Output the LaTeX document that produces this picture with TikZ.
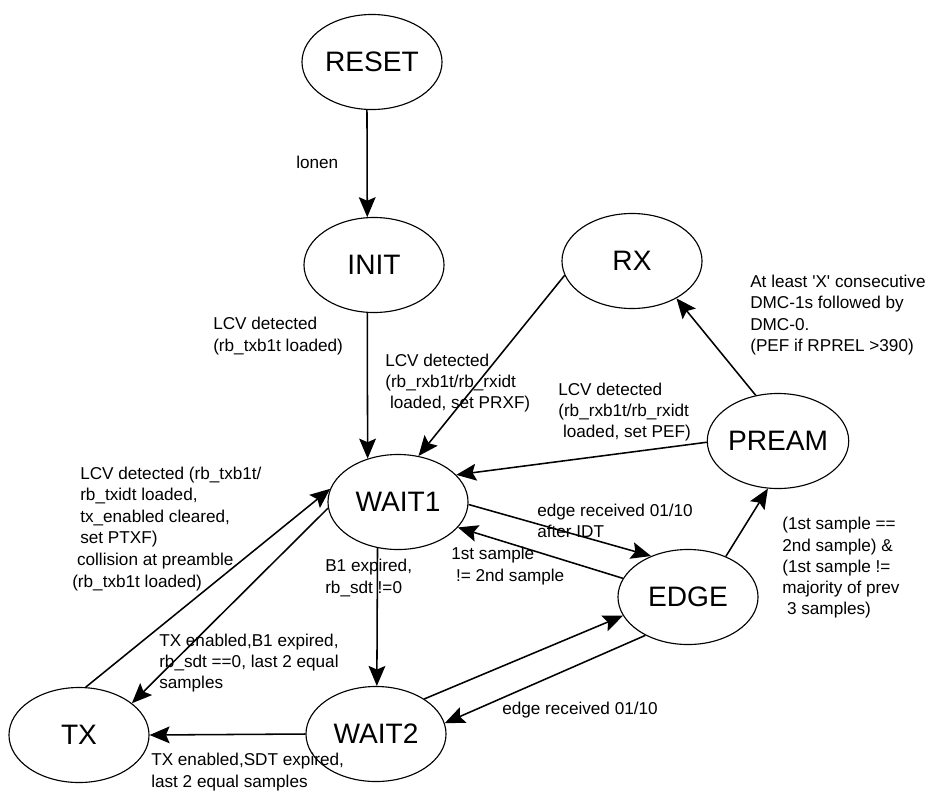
\documentclass[tikz,border=0pt]{standalone}
\usepackage{fontspec}
\setmainfont{Liberation Sans}
\usetikzlibrary{arrows.meta}
\usetikzlibrary{shapes.geometric}

\begin{document}
\begin{tikzpicture}[
        x=0.025cm, y=-0.025cm,
        state/.style={
            draw,
            ellipse,
            line width=0.8pt,
            minimum width=3.5cm,
            minimum height=2.375cm,
            inner sep=0pt,
            font=\fontsize{20}{24}\selectfont
        },
        lbl/.style={
            anchor=west,
            align=left,
            inner sep=0pt,
            font=\fontsize{12.2}{15.1}\selectfont
        },
        arrow/.style={-{Stealth[length=0.5cm, width=0.42cm, inset=0.09cm]}, line width=1.1pt}
    ]
        \useasboundingbox (0,0) rectangle (925,791);

        % states
        \node[state] (RESET) at (372,62) {RESET};
        \node[state] (INIT) at (374,265) {INIT};
        \node[state] (RX) at (632,261) {RX};
        \node[state] (WAIT1) at (398,502) {WAIT1};
        \node[state] (PREAM) at (778,441) {PREAM};
        \node[state] (EDGE) at (688,597) {EDGE};
        \node[state] (WAIT2) at (376,734) {WAIT2};
        \node[state] (TX) at (79,735) {TX};

        % transition labels
        \node[lbl] (lblLonen) at (296,162) {lonen};
        \node[lbl] (lblInit) at (213,336) {LCV detected\\(rb\_txb1t loaded)};
        \node[lbl] (lblRx) at (385,383) {LCV detected\\(rb\_rxb1t/rb\_rxidt\\\mbox{}\ loaded, set PRXF)};
        \node[lbl] (lblPream) at (558,412) {LCV detected\\(rb\_rxb1t/rb\_rxidt\\\mbox{}\ loaded, set PEF)};
        \node[lbl] (lblDmc) at (750,315) {At least \textquotesingle X\textquotesingle{} consecutive\\DMC-1s followed by\\DMC-0.\\(PEF if RPREL >390)};
        \node[lbl] (lblFwd) at (537,521) {edge received 01/10\\after IDT};
        \node[lbl] (lblBack) at (451,566) {1st sample\\\mbox{}\ != 2nd sample};
        \node[lbl] (lblMaj) at (782,568) {(1st sample ==\\2nd sample) \&\\(1st sample !=\\majority of prev\\\mbox{}\ 3 samples)};
        \node[lbl] (lblB1) at (325,578) {B1 expired,\\rb\_sdt !=0};
        \node[lbl] (lblEdge) at (502,710) {edge received 01/10};
        \node[lbl] (lblSdt) at (151,772) {TX enabled,SDT expired,\\last 2 equal samples};
        \node[lbl] (lblPtxf) at (80,507) {LCV detected (rb\_txb1t/\\rb\_txidt loaded,\\tx\_enabled cleared,\\set PTXF)};
        \node[lbl] (lblColl) at (72,572) {\mbox{}\ collision at preamble\\(rb\_txb1t loaded)};
        \node[lbl] (lblTxEn) at (159,663) {TX enabled,B1 expired,\\rb\_sdt ==0, last 2 equal\\samples};

        % transitions
        \draw[arrow] (RESET.-96) -- (INIT.98);
        \draw[arrow] (INIT.-98) -- (WAIT1.125);
        \draw[arrow] (RX.192) -- (WAIT1.66);
        \draw[arrow] (PREAM.181) -- (WAIT1.25);
        \draw[arrow] (PREAM.116) -- (RX.-40);
        \draw[arrow] (WAIT1.-2) -- (EDGE.132);
        \draw[arrow] (EDGE.164) -- (WAIT1.-23);
        \draw[arrow] (EDGE.47) -- (PREAM.-102);
        \draw[arrow] (WAIT1.-114) -- (WAIT2.89);
        \draw[arrow] (WAIT2.36) -- (EDGE.196);
        \draw[arrow] (EDGE.222) -- (WAIT2.9);
        \draw[arrow] (WAIT2.west) -- (TX.east);
        \draw[arrow] (TX.82) -- (WAIT1.169);
        \draw[arrow] (WAIT1.185) -- (TX.31);
\end{tikzpicture}
\end{document}
